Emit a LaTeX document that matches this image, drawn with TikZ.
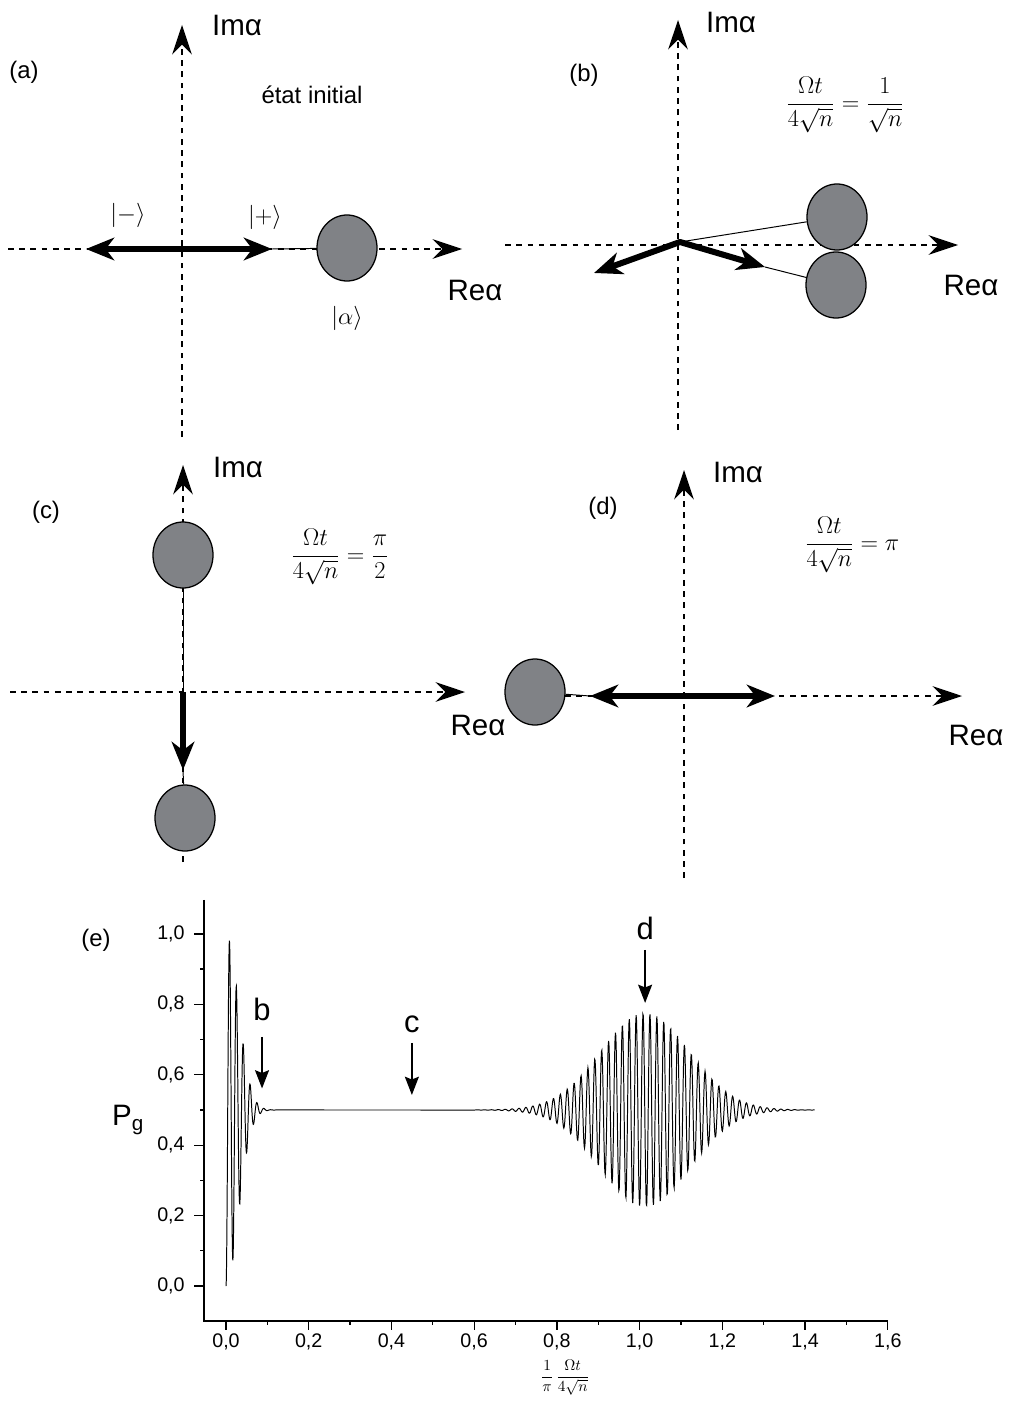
\documentclass[tikz,border=0pt]{standalone}
\usepackage{fontspec}
\setmainfont{Liberation Sans}
\usetikzlibrary{arrows.meta, shapes.geometric}
\definecolor{spotgray}{RGB}{128,130,134}
\tikzset{
	coordax/.style={line width=0.9pt, dash pattern=on 4pt off 4pt, -{Stealth[length=21pt, width=14pt, inset=7pt]}},
	champ/.style={line width=4.3pt, line join=round, {Stealth[length=20pt, width=16pt, inset=6pt]}-{Stealth[length=20pt, width=16pt, inset=6pt]}},
	champun/.style={line width=4.3pt, -{Stealth[length=20pt, width=16pt, inset=6pt]}},
	spot/.style={ellipse, draw, line width=0.9pt, fill=spotgray, minimum width=1.5cm, minimum height=1.65cm, inner sep=0pt},
	lien/.style={line width=0.7pt},
	grand/.style={font=\fontsize{21}{25}\selectfont},
	paneltag/.style={font=\fontsize{17}{20}\selectfont},
	ketlab/.style={font=\fontsize{19}{22}\selectfont},
	formule/.style={font=\fontsize{17}{20}\selectfont},
	ticklab/.style={font=\fontsize{14}{16}\selectfont},
	pointeur/.style={line width=0.9pt, -{Stealth[length=13pt, width=10pt, inset=2pt]}},
	courbe/.style={line width=0.7pt}
}
\begin{document}
\begin{tikzpicture}[x=0.025cm, y=-0.025cm]
	\useasboundingbox (0,0) rectangle (1008,1405);
	% (a) etat initial
	\draw[coordax] (8,249) -- (462,249);
	\draw[coordax] (182,437) -- (182,25);
	\node[grand] (ima) at (237,25) {Imα};
	\node[grand] (rea) at (475,290) {Reα};
	\node[paneltag] (tga) at (24,72) {(a)};
	\node[paneltag] (eta) at (312,95) {état initial};
	\node[spot] (spa) at (347,248) {};
	\coordinate (pa) at (272,249);
	\coordinate (ma) at (86,249);
	\draw[lien] (pa) -- (spa);
	\draw[champ] (ma) -- (pa);
	\node[ketlab] (kmoins) at (128,215) {$|{-}\rangle$};
	\node[ketlab] (kplus) at (265,217) {$|{+}\rangle$};
	\node[ketlab] (kalpha) at (347,318) {$|\alpha\rangle$};
	% (b)
	\draw[coordax] (505,245) -- (958,245);
	\draw[coordax] (678,430) -- (678,20);
	\node[grand] (imb) at (731,22) {Imα};
	\node[grand] (reb) at (971,285) {Reα};
	\node[paneltag] (tgb) at (584,75) {(b)};
	\node[formule] (fb) at (845,105) {$\displaystyle\frac{\Omega t}{4\sqrt{n}}=\frac{1}{\sqrt{n}}$};
	\node[spot] (ub) at (837,217) {};
	\node[spot] (db) at (836,285) {};
	\coordinate (ob) at (680,242);
	\coordinate (lb) at (594,273);
	\coordinate (rb) at (765,267);
	\draw[lien] (ob) -- (ub);
	\draw[lien] (rb) -- (db);
	\draw[champ] (lb) -- (ob) -- (rb);
	% (c)
	\draw[coordax] (10,692) -- (465,692);
	\draw[coordax] (183,862) -- (183,465);
	\node[grand] (imc) at (238,467) {Imα};
	\node[grand] (rec) at (478,725) {Reα};
	\node[paneltag] (tgc) at (46,512) {(c)};
	\node[formule] (fc) at (340,557) {$\displaystyle\frac{\Omega t}{4\sqrt{n}}=\frac{\pi}{2}$};
	\node[spot] (uc) at (183,555) {};
	\node[spot] (dc) at (185,818) {};
	\coordinate (oc) at (183,692);
	\coordinate (tc) at (183,770);
	\draw[lien] (uc) -- (oc);
	\draw[lien] (tc) -- (dc);
	\draw[champun] (oc) -- (tc);
	% (d)
	\draw[coordax] (565,696) -- (962,696);
	\draw[coordax] (684,878) -- (684,470);
	\node[grand] (imd) at (738,472) {Imα};
	\node[grand] (red) at (976,735) {Reα};
	\node[paneltag] (tgd) at (603,508) {(d)};
	\node[formule] (fd) at (852,545) {$\displaystyle\frac{\Omega t}{4\sqrt{n}}=\pi$};
	\node[spot] (sd) at (535,692) {};
	\coordinate (ld) at (590,696);
	\coordinate (rd) at (775,696);
	\draw[lien] (sd) -- (ld);
	\draw[champ] (ld) -- (rd);
	% (e) probabilite P_g
	\node[paneltag] (tge) at (96,940) {(e)};
	\node[grand] (pg) at (128,1120) {P\textsubscript{g}};
	\node[formule, font=\fontsize{11}{13}\selectfont] (xlab) at (565,1378) {$\displaystyle\frac{1}{\pi}\,\frac{\Omega t}{4\sqrt{n}}$};
	\begin{scope}[shift={(226,1286)}, x=10.3375cm, y=8.8cm]
		% axes et graduations
		\draw[line width=0.9pt] (-0.0532,1.0966) -- (-0.0532,-0.0994) -- (1.6,-0.0994);
		\foreach \v/\t in {0/0,0.2/2,0.4/4,0.6/6,0.8/8} {
			\draw[line width=0.9pt] (-0.0532,\v) -- (-0.0774,\v);
			\node[ticklab, anchor=east] at (-0.088,\v) {0,\t};
		}
		\draw[line width=0.9pt] (-0.0532,1) -- (-0.0774,1);
		\node[ticklab, anchor=east] at (-0.088,1) {1,0};
		\foreach \v in {0.1,0.3,0.5,0.7,0.9}
			\draw[line width=0.9pt] (-0.0532,\v) -- (-0.0629,\v);
		\foreach \v/\t in {0/0,0.2/2,0.4/4,0.6/6,0.8/8} {
			\draw[line width=0.9pt] (\v,-0.0994) -- (\v,-0.125);
			\node[ticklab] at (\v,-0.159) {0,\t};
		}
		\foreach \v/\t in {1/0,1.2/2,1.4/4,1.6/6} {
			\draw[line width=0.9pt] (\v,-0.0994) -- (\v,-0.125);
			\node[ticklab] at (\v,-0.159) {1,\t};
		}
		\foreach \v in {0.1,0.3,0.5,0.7,0.9,1.1,1.3,1.5}
			\draw[line width=0.9pt] (\v,-0.0994) -- (\v,-0.1108);
		% effondrement et resurgence
		\draw[courbe] plot[domain=0:0.12, samples=200] (\x,{0.5-0.5*exp(-(\x/0.042)*(\x/0.042))*cos(360*(60*\x))})
			-- plot[domain=0.6:1.424, samples=800] (\x,{0.5-0.275*exp(-(\x-1.013)*(\x-1.013)/0.023)*cos(360*(60*(\x-1)))});
		% fleches b, c, d
		\node[grand, font=\fontsize{22}{26}\selectfont] (lbb) at (0.0871,0.7841) {b};
		\node[grand, font=\fontsize{22}{26}\selectfont] (lbc) at (0.4494,0.7443) {c};
		\node[grand, font=\fontsize{22}{26}\selectfont] (lbd) at (1.0133,1.0142) {d};
		\coordinate (fb0) at (0.0871,0.7074);
		\coordinate (fb1) at (0.0871,0.5611);
		\coordinate (fc0) at (0.4494,0.6903);
		\coordinate (fc1) at (0.4494,0.5426);
		\coordinate (fd0) at (1.0133,0.9545);
		\coordinate (fd1) at (1.0133,0.8040);
		\draw[pointeur] (fb0) -- (fb1);
		\draw[pointeur] (fc0) -- (fc1);
		\draw[pointeur] (fd0) -- (fd1);
	\end{scope}
\end{tikzpicture}
\end{document}
